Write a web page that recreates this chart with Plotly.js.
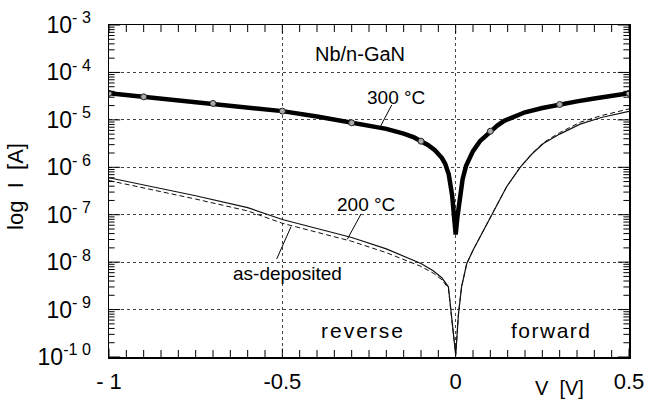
<!DOCTYPE html>
<html>
<head>
<meta charset="utf-8">
<script src="https://cdn.plot.ly/plotly-3.0.1.min.js"></script>
<style>
  html, body { margin: 0; padding: 0; background: #fff; }
  #chart { width: 649px; height: 399px; }
</style>
</head>
<body>
<div id="chart"></div>
<script>
// ---- Data (current given as log10 of I [A]) ----
const V300 = [-1, -0.9, -0.8, -0.7, -0.6, -0.5, -0.4, -0.3, -0.25, -0.2, -0.15, -0.12, -0.1, -0.08, -0.06, -0.04, -0.03, -0.02, -0.01, -0.005, 0, 0.005, 0.01, 0.02, 0.03, 0.04, 0.05, 0.07, 0.1, 0.12, 0.14, 0.17, 0.2, 0.25, 0.3, 0.35, 0.4, 0.45, 0.5];
const logI300 = [-4.44, -4.515, -4.58, -4.654, -4.73, -4.816, -4.93, -5.063, -5.12, -5.19, -5.29, -5.37, -5.45, -5.53, -5.64, -5.8, -5.93, -6.15, -6.6, -7.0, -7.42, -7.05, -6.72, -6.25, -5.97, -5.8, -5.66, -5.45, -5.24, -5.12, -5.02, -4.92, -4.84, -4.75, -4.675, -4.61, -4.55, -4.49, -4.44];

const V300marks = [-1, -0.9, -0.7, -0.5, -0.3, -0.1, 0.1, 0.3, 0.5];
const logI300marks = [-4.44, -4.515, -4.654, -4.816, -5.063, -5.45, -5.24, -4.675, -4.44];

const V200 = [-1, -0.9, -0.75, -0.6, -0.5, -0.4, -0.3, -0.2, -0.15, -0.1, -0.065, -0.04, -0.021, -0.012, -0.005, 0, 0.003, 0.008, 0.017, 0.032, 0.05, 0.07, 0.104, 0.128, 0.147, 0.186, 0.22, 0.253, 0.3, 0.359, 0.42, 0.5];
const logI200 = [-6.22, -6.37, -6.6, -6.85, -7.1, -7.29, -7.48, -7.72, -7.87, -8.03, -8.18, -8.33, -8.52, -9.2, -9.6, -9.95, -9.65, -9.1, -8.52, -8.03, -7.75, -7.47, -7.0, -6.69, -6.41, -6.0, -5.72, -5.5, -5.3, -5.09, -4.95, -4.82];

const Vas = [-1, -0.9, -0.75, -0.6, -0.5, -0.4, -0.3, -0.2, -0.15, -0.1, -0.065, -0.04, -0.021, -0.012, -0.005, 0, 0.003, 0.008, 0.017, 0.032, 0.05, 0.07, 0.104, 0.128, 0.147, 0.186, 0.22, 0.253, 0.3, 0.359, 0.42, 0.5];
const logIas = [-6.28, -6.43, -6.67, -6.92, -7.18, -7.37, -7.56, -7.8, -7.94, -8.09, -8.23, -8.37, -8.55, -9.22, -9.62, -9.95, -9.65, -9.1, -8.52, -8.03, -7.75, -7.47, -7.0, -6.69, -6.41, -6.0, -5.71, -5.48, -5.27, -5.05, -4.91, -4.77];

const xRange = [-1, 0.5];
const yRangeExp = [-10, -3];
const xTickVals = [-1, -0.5, 0, 0.5];
const xTickText = ['- 1', '-0.5', '0', '0.5'];
const xMinorStep = 0.05;
const yTickExps = [-10, -9, -8, -7, -6, -5, -4, -3];
const yTickText = ['10<sup>-1 0</sup>', '10<sup>- 9</sup>', '10<sup>- 8</sup>', '10<sup>- 7</sup>', '10<sup>- 6</sup>', '10<sup>- 5</sup>', '10<sup>- 4</sup>', '10<sup>- 3</sup>'];
const yMinorMantissas = [2, 3, 4, 5, 6, 7, 8, 9];

const toI = arr => arr.map(v => Math.pow(10, v));
const FONT = 'Liberation Sans, Arial, Helvetica, sans-serif';

// tick positions (axis decoration, not data)
const xMinorVals = [];
for (let k = 1; k < 30; k++) { if (k % 10 !== 0) xMinorVals.push(xRange[0] + k * xMinorStep); }
const yMajorVals = yTickExps.map(e => Math.pow(10, e));
const yMinorVals = [];
for (let e = yRangeExp[0]; e < yRangeExp[1]; e++) { yMinorMantissas.forEach(m => yMinorVals.push(m * Math.pow(10, e))); }
const yBottom = Math.pow(10, yRangeExp[0]), yTop = Math.pow(10, yRangeExp[1]);

// Tick marks drawn as line-symbols sitting on the frame; the half outside the plot is clipped.
function xTickTrace(vals, size) {
  return { x: vals.concat(vals), y: vals.map(() => yBottom).concat(vals.map(() => yTop)),
    mode: 'markers', cliponaxis: true, showlegend: false, hoverinfo: 'skip',
    marker: { symbol: 'line-ns', size: size, color: '#000', line: { color: '#000', width: 1 } } };
}
function yTickTrace(vals, size) {
  return { x: vals.map(() => xRange[0]).concat(vals.map(() => xRange[1])), y: vals.concat(vals),
    mode: 'markers', cliponaxis: true, showlegend: false, hoverinfo: 'skip',
    marker: { symbol: 'line-ew', size: size, color: '#000', line: { color: '#000', width: 1 } } };
}

const traces = [
  { x: Vas, y: toI(logIas), mode: 'lines', name: 'as-deposited',
    line: { color: '#111', width: 1, dash: '5px,3px' }, hoverinfo: 'skip' },
  { x: V200, y: toI(logI200), mode: 'lines', name: '200 °C',
    line: { color: '#111', width: 1.2 }, hoverinfo: 'skip' },
  { x: V300, y: toI(logI300), mode: 'lines', name: '300 °C',
    line: { color: '#000', width: 4.5 }, hoverinfo: 'skip' },
  { x: V300marks, y: toI(logI300marks), mode: 'markers', name: '300 °C points',
    marker: { symbol: 'circle', size: 6, color: '#aaa', line: { width: 1, color: '#222' } }, hoverinfo: 'skip' },
  xTickTrace(xMinorVals, 10),
  xTickTrace(xTickVals, 12),
  yTickTrace(yMinorVals, 8),
  yTickTrace(yMajorVals, 16)
];

const ann = (text, x, y, size, extra) => Object.assign({
  text: text, x: x, y: y, xref: 'paper', yref: 'paper', showarrow: false,
  xanchor: 'center', yanchor: 'middle', font: { family: FONT, size: size, color: '#000' }
}, extra || {});

const leaderShapes = [
  { type: 'line', xref: 'paper', yref: 'paper', x0: (391.7-109)/520, y0: (357-105)/332, x1: (380.7-109)/520, y1: (357-126)/332, line: { color: '#000', width: 1 } },
  { type: 'line', xref: 'paper', yref: 'paper', x0: (361-109)/520, y0: (357-214)/332, x1: (347.3-109)/520, y1: (357-239.3)/332, line: { color: '#000', width: 1 } },
  { type: 'line', xref: 'paper', yref: 'paper', x0: (276.7-109)/520, y0: (357-259)/332, x1: (291-109)/520, y1: (357-226.7)/332, line: { color: '#000', width: 1 } }
];

const layout = {
  width: 649, height: 399,
  margin: { l: 109, r: 20, t: 25, b: 42 },
  paper_bgcolor: '#fff', plot_bgcolor: '#fff',
  showlegend: false,
  font: { family: FONT, color: '#000' },
  xaxis: {
    range: xRange, tickmode: 'array', tickvals: xTickVals, ticktext: xTickText,
    ticks: '', showline: true, linecolor: '#000', linewidth: 1.5, mirror: true,
    showgrid: true, gridcolor: '#444', gridwidth: 1, griddash: 'dot',
    zeroline: false, ticklabelstandoff: 4,
    tickfont: { family: FONT, size: 22, color: '#000' }
  },
  yaxis: {
    type: 'log', range: yRangeExp, tickmode: 'array',
    tickvals: yMajorVals, ticktext: yTickText,
    ticks: '', showline: true, linecolor: '#000', linewidth: 1.5, mirror: true,
    showgrid: true, gridcolor: '#444', gridwidth: 1, griddash: 'dot',
    zeroline: false, ticklabelstandoff: 12,
    tickfont: { family: FONT, size: 23, color: '#000' }
  },
  annotations: [
    ann('Nb/n-GaN', 0.4827, 0.9127, 20),
    ann('300 °C', 0.5519, 0.7831, 19),
    ann('200 °C', 0.494, 0.458, 19),
    ann('as-deposited', 0.344, 0.253, 19),
    ann('<span style="letter-spacing:2px">reverse</span>', 0.488, 0.081, 21),
    ann('<span style="letter-spacing:1.5px">forward</span>', 0.85, 0.081, 21),
    ann('V  [V]', 0.867, -0.092, 20),
    ann('log  I  [A]', -0.181, 0.515, 22, { textangle: -90 })
  ],
  shapes: leaderShapes
};

Plotly.newPlot('chart', traces, layout, { staticPlot: true, displayModeBar: false });
</script>
</body>
</html>
